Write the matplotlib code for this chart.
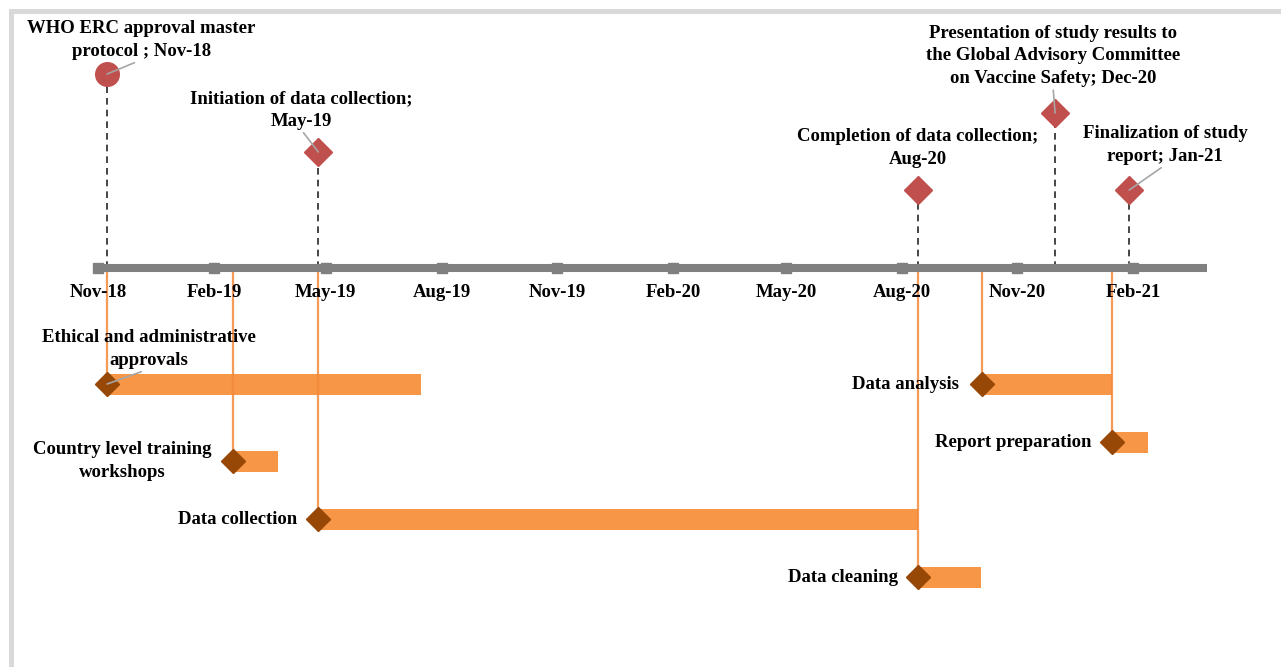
import matplotlib
matplotlib.use('Agg')
import matplotlib.pyplot as plt
import matplotlib.dates as mdates
from matplotlib.patches import Rectangle
import pandas as pd

# 里程碑
milestone_labels = ['WHO ERC approval master\nprotocol ; Nov-18',
                    'Initiation of data collection;\nMay-19',
                    'Completion of data collection;\nAug-20',
                    'Presentation of study results to\nthe Global Advisory Committee\non Vaccine Safety; Dec-20',
                    'Finalization of study\nreport; Jan-21']
milestone_dates = ['2018-11-08', '2019-04-25', '2020-08-14', '2020-12-01', '2021-01-29']
milestone_heights = [19.4, 11.6, 7.8, 15.5, 7.8]
milestone_markers = ['o', 'D', 'D', 'D', 'D']

# 任务
task_labels = ['Ethical and administrative\napprovals',
               'Country level training\nworkshops',
               'Data collection',
               'Data cleaning',
               'Data analysis',
               'Report preparation']
task_start = ['2018-11-08', '2019-02-16', '2019-04-25', '2020-08-14', '2020-10-04', '2021-01-15']
task_end = ['2019-07-16', '2019-03-24', '2020-08-14', '2020-10-03', '2021-01-15', '2021-02-13']
task_rows = [-11.6, -19.3, -25.1, -30.9, -11.6, -17.4]

# 坐标轴刻度
tick_dates = ['2018-11-01', '2019-02-01', '2019-05-01', '2019-08-01', '2019-11-01',
              '2020-02-01', '2020-05-01', '2020-08-01', '2020-11-01', '2021-02-01']
tick_labels = ['Nov-18', 'Feb-19', 'May-19', 'Aug-19', 'Nov-19',
               'Feb-20', 'May-20', 'Aug-20', 'Nov-20', 'Feb-21']
axis_span = ['2018-11-01', '2021-04-01']


def d(s):
    return mdates.date2num(pd.Timestamp(s))


plt.rcParams['font.family'] = ['Liberation Serif', 'DejaVu Serif']
plt.rcParams['font.weight'] = 'bold'
FS = 13.5
LS = 1.45

RED = '#C0504D'
ORANGE = '#F79646'
LINE_OR = '#F28A3A'
BROWN = '#974706'
GREY = '#808080'
LEADER = dict(arrowstyle='-', color='#A6A6A6', lw=1.2, shrinkA=0, shrinkB=0,
              relpos=(0.5, 0.0))

fig = plt.figure(figsize=(12.81, 6.67), dpi=100)
ax = fig.add_axes([0, 0, 1, 1])
x0 = d('2018-11-01')
ax.set_xlim(x0 - 78.2, x0 + 940.7)
ax.set_ylim(-39.9, 26.8)
ax.axis('off')

# 时间轴
ax.plot([d(axis_span[0]), d(axis_span[1])], [0, 0], color=GREY, lw=5.8,
        solid_capstyle='butt', zorder=3)
tx = [d(t) for t in tick_dates]
ax.plot(tx, [0] * len(tx), 's', color=GREY, ms=7, zorder=3)
for x, lab in zip(tx, tick_labels):
    ax.text(x, -2.4, lab, ha='center', va='center', fontsize=FS, fontweight='bold')

# 任务条
for lab, s, e, r in zip(task_labels, task_start, task_end, task_rows):
    xs, xe = d(s), d(e)
    ax.barh(r, xe - xs, left=xs, height=2.1, color=ORANGE, zorder=2)
    ax.plot([xs, xs], [0, r], color=LINE_OR, lw=1.6, alpha=0.85, zorder=2.5)
    ax.plot(xs, r, 'D', color=BROWN, ms=12, zorder=4)

task_offsets = [(42, 35), (-21, 0), (-21, 0), (-20, 0), (-23, 0), (-20, 0)]
for i, (lab, s, r) in enumerate(zip(task_labels, task_start, task_rows)):
    dx, dy = task_offsets[i]
    if i == 0:
        ax.annotate(lab, xy=(d(s), r), xytext=(dx, dy), textcoords='offset pixels',
                    ha='center', va='center', fontsize=FS, fontweight='bold',
                    multialignment='center', linespacing=LS, zorder=5,
                    arrowprops=LEADER)
    else:
        ax.annotate(lab, xy=(d(s), r), xytext=(dx, dy), textcoords='offset pixels',
                    ha='right', va='center', fontsize=FS, fontweight='bold',
                    multialignment='center', linespacing=LS, zorder=5)

# 里程碑
ms_offsets = [(34, 34), (-17, 42), (0, 42), (-2, 57), (36, 45)]
show_leader = [True, True, False, True, True]
for i, (lab, dt, h, mk) in enumerate(zip(milestone_labels, milestone_dates,
                                         milestone_heights, milestone_markers)):
    x = d(dt)
    ax.plot([x, x], [0, h], color='#262626', lw=1.2, ls=(0, (4, 3)), zorder=2.8)
    ax.plot(x, h, mk, color=RED, ms=17 if mk == 'o' else 14, zorder=4)
    ax.annotate(lab, xy=(x, h), xytext=ms_offsets[i], textcoords='offset pixels',
                ha='center', va='center', fontsize=FS, fontweight='bold',
                multialignment='center', linespacing=LS,
                arrowprops=LEADER if show_leader[i] else None, zorder=5)

# 外框
fig.patches.append(Rectangle((10.5 / 1281, -0.1), 1.2, 1 - 10.5 / 667 + 0.1,
                             transform=fig.transFigure, fill=False,
                             edgecolor='#D9D9D9', lw=3.6, zorder=0))

plt.savefig('out.png', dpi=100)
plt.close()
